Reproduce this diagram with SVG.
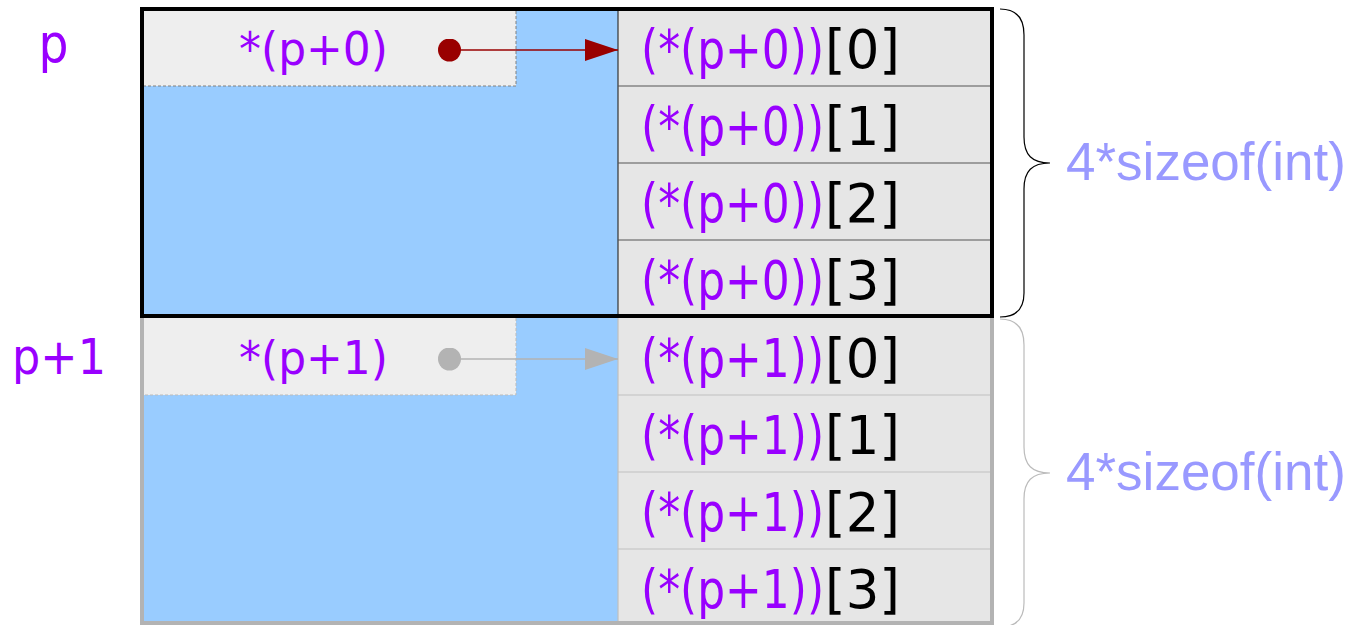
<svg xmlns="http://www.w3.org/2000/svg" width="1367" height="625" viewBox="0 0 1367 625">
<style>
.pur{fill:#9900FF;font-family:"DejaVu Sans",sans-serif}
.blk{fill:#000000;font-family:"DejaVu Sans",sans-serif}
.cell{font-size:54px}
.lbl{font-size:47px}
.size{fill:#9999FF;font-family:"Liberation Sans",Arial,sans-serif;font-size:53px}
.blue{fill:#99CCFF}
.cellbg{fill:#E6E6E6}
.lblbg{fill:#EEEEEE}
</style>
<defs>
<marker id="headR" viewBox="0 0 33 22" refX="33" refY="11" markerWidth="33" markerHeight="22" markerUnits="userSpaceOnUse" orient="auto"><path d="M0,0 L33,11 L0,22 Z" fill="#990000"/></marker>
<marker id="dotR" viewBox="0 0 23 23" refX="11.5" refY="11.5" markerWidth="23" markerHeight="23" markerUnits="userSpaceOnUse"><circle cx="11.5" cy="11.5" r="11.5" fill="#990000"/></marker>
<marker id="headG" viewBox="0 0 33 22" refX="33" refY="11" markerWidth="33" markerHeight="22" markerUnits="userSpaceOnUse" orient="auto"><path d="M0,0 L33,11 L0,22 Z" fill="#B3B3B3"/></marker>
<marker id="dotG" viewBox="0 0 23 23" refX="11.5" refY="11.5" markerWidth="23" markerHeight="23" markerUnits="userSpaceOnUse"><circle cx="11.5" cy="11.5" r="11.5" fill="#B3B3B3"/></marker>
</defs>
<rect width="1367" height="625" fill="#FFFFFF"/>

<g id="label-p"><text class="pur" font-size="54" text-anchor="middle" transform="translate(53.5,62) scale(0.875,1)">p</text></g>
<g id="label-p1"><text class="pur" font-size="50" text-anchor="middle" transform="translate(59,374) scale(0.891,1)">p+1</text></g>

<g id="block1">
<rect class="blue" x="144" y="318" width="474" height="303"/>
<rect class="lblbg" x="144" y="318" width="372" height="77"/>
<path d="M516,318 V395 H144" fill="none" stroke="#BBBBBB" stroke-width="1" stroke-dasharray="3,2"/>
<rect class="cellbg" x="618" y="318" width="372" height="303"/>
<path d="M618,318 V621 M618,395 H990 M618,472 H990 M618,549 H990" fill="none" stroke="#BFBFBF" stroke-width="1.2"/>
<text class="pur lbl" text-anchor="middle" transform="translate(313.5,374) scale(0.935,1)">*(p+1)</text>
<g class="cell">
<text class="pur" transform="translate(641,376.5) scale(0.813,1)">(*(p+1))</text><text class="blk" transform="translate(825,376.5) scale(0.98,1)">[0]</text>
<text class="pur" transform="translate(641,453.5) scale(0.813,1)">(*(p+1))</text><text class="blk" transform="translate(825,453.5) scale(0.98,1)">[1]</text>
<text class="pur" transform="translate(641,530.5) scale(0.813,1)">(*(p+1))</text><text class="blk" transform="translate(825,530.5) scale(0.98,1)">[2]</text>
<text class="pur" transform="translate(641,607.5) scale(0.813,1)">(*(p+1))</text><text class="blk" transform="translate(825,607.5) scale(0.98,1)">[3]</text>
</g>
<rect x="142" y="316" width="850" height="307" fill="none" stroke="#B3B3B3" stroke-width="4"/>
</g>

<g id="block0">
<rect class="blue" x="144" y="11" width="474" height="303"/>
<rect class="lblbg" x="144" y="11" width="372" height="75"/>
<path d="M516,11 V86 H144" fill="none" stroke="#808080" stroke-width="1" stroke-dasharray="3,2"/>
<rect class="cellbg" x="618" y="11" width="372" height="303"/>
<path d="M618,11 V314" fill="none" stroke="#333333" stroke-width="1.2"/>
<path d="M618,86 H990 M618,163 H990 M618,240 H990" fill="none" stroke="#555555" stroke-width="1.2"/>
<text class="pur lbl" text-anchor="middle" transform="translate(313.5,65) scale(0.935,1)">*(p+0)</text>
<g class="cell">
<text class="pur" transform="translate(641,67.5) scale(0.813,1)">(*(p+0))</text><text class="blk" transform="translate(825,67.5) scale(0.98,1)">[0]</text>
<text class="pur" transform="translate(641,144.5) scale(0.813,1)">(*(p+0))</text><text class="blk" transform="translate(825,144.5) scale(0.98,1)">[1]</text>
<text class="pur" transform="translate(641,221.5) scale(0.813,1)">(*(p+0))</text><text class="blk" transform="translate(825,221.5) scale(0.98,1)">[2]</text>
<text class="pur" transform="translate(641,298.5) scale(0.813,1)">(*(p+0))</text><text class="blk" transform="translate(825,298.5) scale(0.98,1)">[3]</text>
</g>
<rect x="142" y="9" width="850" height="307" fill="none" stroke="#000000" stroke-width="4"/>
</g>

<g id="connectors">
<line x1="449.5" y1="50" x2="618" y2="50" stroke="#990000" stroke-width="1.5" marker-start="url(#dotR)" marker-end="url(#headR)"/>
<line x1="449.5" y1="359" x2="618" y2="359" stroke="#B3B3B3" stroke-width="1.5" marker-start="url(#dotG)" marker-end="url(#headG)"/>
</g>

<g id="brace0">
<path d="M1000,9 C1016,9 1024,17 1024,35 L1024,137 C1024,155 1032,163 1050,163 C1032,163 1024,171 1024,189 L1024,293 C1024,309 1016,317 1000,317" fill="none" stroke="#000000" stroke-width="1.2"/>
<text class="size" x="1066" y="180">4*sizeof(int)</text>
</g>
<g id="brace1">
<path d="M1000,319 C1016,319 1024,327 1024,345 L1024,447 C1024,465 1032,473 1050,473 C1032,473 1024,481 1024,499 L1024,603 C1024,619 1016,627 1000,627" fill="none" stroke="#BBBBBB" stroke-width="1.2"/>
<text class="size" x="1066" y="490">4*sizeof(int)</text>
</g>
</svg>
